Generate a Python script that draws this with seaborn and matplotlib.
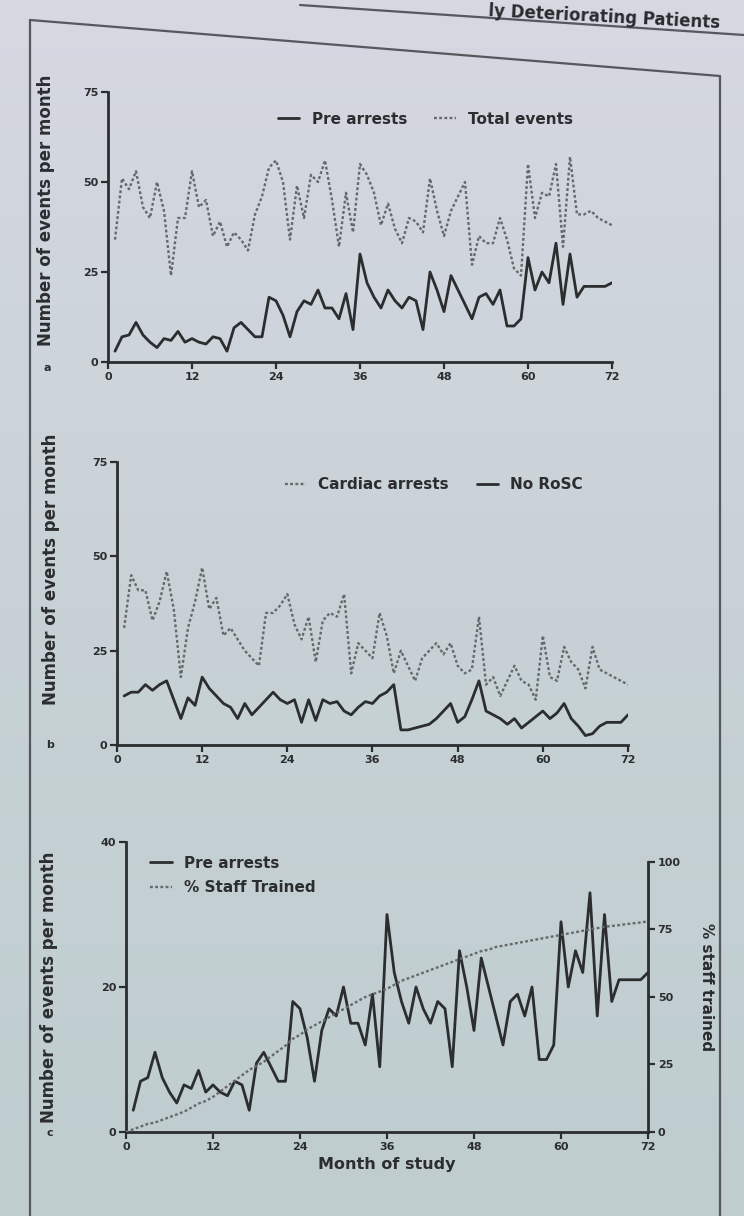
import numpy as np
import pandas as pd
import matplotlib
matplotlib.use("Agg")
import matplotlib.pyplot as plt
from matplotlib.lines import Line2D
from matplotlib.colors import LinearSegmentedColormap
import seaborn as sns

# ── data (months 1..72) ──────────────────────────────────────────────────────
months = list(range(1, 73))

pre_arrests = [3, 7, 7.5, 11, 7.5, 5.5, 4, 6.5, 6, 8.5, 5.5, 6.5,
               5.5, 5, 7, 6.5, 3, 9.5, 11, 9, 7, 7, 18, 17,
               13, 7, 14, 17, 16, 20, 15, 15, 12, 19, 9, 30,
               22, 18, 15, 20, 17, 15, 18, 17, 9, 25, 20, 14,
               24, 20, 16, 12, 18, 19, 16, 20, 10, 10, 12, 29,
               20, 25, 22, 33, 16, 30, 18, 21, 21, 21, 21, 22]

total_events = [34, 51, 48, 53, 43, 40, 50, 42, 24, 40, 40, 53,
                43, 45, 35, 39, 32, 36, 34, 31, 41, 46, 54, 56,
                50, 34, 49, 40, 52, 50, 56, 45, 32, 47, 36, 55,
                52, 47, 38, 44, 37, 33, 40, 39, 36, 51, 42, 35,
                42, 46, 50, 27, 35, 33, 33, 40, 34, 26, 24, 55,
                40, 47, 46, 55, 32, 57, 41, 41, 42, 40, 39, 38]

cardiac_arrests = [31, 45, 41, 41, 33, 38, 46, 36, 18, 31, 38, 47,
                   36, 39, 29, 31, 28, 25, 23, 21, 35, 35, 37, 40,
                   32, 28, 34, 22, 33, 35, 34, 40, 19, 27, 25, 23,
                   35, 29, 19, 25, 21, 17, 23, 25, 27, 24, 27, 21,
                   19, 20, 34, 16, 18, 13, 17, 21, 17, 16, 12, 29,
                   18, 17, 26, 22, 20, 15, 26, 20, 19, 18, 17, 16]

no_rosc = [13, 14, 14, 16, 14.5, 16, 17, 12, 7, 12.5, 10.5, 18,
           15, 13, 11, 10, 7, 11, 8, 10, 12, 14, 12, 11,
           12, 6, 12, 6.5, 12, 11, 11.5, 9, 8, 10, 11.5, 11,
           13, 14, 16, 4, 4, 4.5, 5, 5.5, 7, 9, 11, 6,
           7.5, 12, 17, 9, 8, 7, 5.5, 7, 4.5, 6, 7.5, 9,
           7, 8.5, 11, 7, 5, 2.5, 3, 5, 6, 6, 6, 8]

staff_months = list(range(0, 73))
staff_trained = [0, 1, 2, 3, 3.5, 4.5, 5.5, 6.5, 7.5, 9, 10.5, 11.5, 13,
                 15, 17, 19, 21, 23, 24.5, 26, 28, 30, 32, 34.5, 36,
                 38, 39.5, 41, 42.5, 44, 45.5, 47, 48.5, 50, 51, 52, 53,
                 54.5, 56, 57, 58, 59, 60, 61, 62, 63, 64, 65, 66,
                 67, 67.5, 68.5, 69, 69.5, 70, 70.5, 71, 71.5, 72, 72.5, 73,
                 73.5, 74, 74.5, 75, 75.5, 76, 76.3, 76.6, 77, 77.3, 77.6, 78]

x_ticks = [0, 12, 24, 36, 48, 60, 72]

df = pd.DataFrame({"month": months, "pre": pre_arrests, "total": total_events,
                   "cardiac": cardiac_arrests, "norosc": no_rosc})
df_staff = pd.DataFrame({"month": staff_months, "staff": staff_trained})

# ── style ────────────────────────────────────────────────────────────────────
sns.set_theme(style="ticks")
plt.rcParams["font.family"] = ["DejaVu Sans"]
plt.rcParams["font.weight"] = "bold"

INK = "#2b2d2f"
DOT = "#66696b"
DOTTED = (0, (1.2, 1.0))
W, H = 744, 1216

fig = plt.figure(figsize=(W / 100, H / 100), dpi=100)

# page background (photographed paper)
bg = fig.add_axes([0, 0, 1, 1], zorder=-10)
paper = LinearSegmentedColormap.from_list("paper", ["#bfcdcf", "#c8d2d6", "#d6d8e2"])
bg.imshow(np.linspace(0, 1, 256).reshape(-1, 1), cmap=paper, origin="lower",
          extent=[0, 1, 0, 1], aspect="auto")
bg.set_xlim(0, 1); bg.set_ylim(0, 1)
bg.axis("off")

# page frame lines
for (x0, y0, x1, y1) in [(300, 5, 744, 35), (30, 20, 720, 76),
                         (30, 20, 30, 1216), (720, 76, 720, 1216)]:
    fig.add_artist(Line2D([x0 / W, x1 / W], [1 - y0 / H, 1 - y1 / H],
                          color="#55585c", lw=1.6, zorder=-5))
fig.text(720 / W, 1 - 2 / H, "ly Deteriorating Patients", ha="right", va="top",
         fontsize=12, fontweight="bold", color="#2a2a2e", rotation=-3)


def axes_px(left, right, top, bottom):
    return fig.add_axes([left / W, 1 - bottom / H, (right - left) / W, (bottom - top) / H])


def style_axis(ax, ymax, yticks, label_xy):
    ax.set_facecolor("none")
    sns.despine(ax=ax)
    ax.set_xlim(0, 72)
    ax.set_ylim(0, ymax)
    ax.set_xticks(x_ticks)
    ax.set_yticks(yticks)
    for s in ("left", "bottom"):
        ax.spines[s].set_linewidth(2.0)
        ax.spines[s].set_color(INK)
    ax.tick_params(width=1.6, length=5, color=INK, labelsize=8, pad=2,
                   labelcolor=INK)
    ax.set_xlabel("")
    ax.set_ylabel("Number of events per month", fontsize=12, fontweight="bold",
                  color=INK)
    ax.yaxis.set_label_coords(*label_xy)


# ── panel a ──────────────────────────────────────────────────────────────────
ax_a = axes_px(108, 612, 92, 362)
sns.lineplot(data=df, x="month", y="pre", ax=ax_a, color=INK, lw=2.0,
             label="Pre arrests")
sns.lineplot(data=df, x="month", y="total", ax=ax_a, color=DOT, lw=1.7,
             linestyle=DOTTED, label="Total events")
style_axis(ax_a, 75, [0, 25, 50, 75], (-0.105, 0.56))
ax_a.legend(ncol=2, loc="center", bbox_to_anchor=(0.63, 0.9), frameon=False,
            fontsize=11, handlelength=1.4, columnspacing=1.8, labelcolor=INK)

# ── panel b ──────────────────────────────────────────────────────────────────
ax_b = axes_px(117, 628, 462, 745)
sns.lineplot(data=df, x="month", y="cardiac", ax=ax_b, color=DOT, lw=1.7,
             linestyle=DOTTED, label="Cardiac arrests")
sns.lineplot(data=df, x="month", y="norosc", ax=ax_b, color=INK, lw=2.0,
             label="No RoSC")
style_axis(ax_b, 75, [0, 25, 50, 75], (-0.112, 0.62))
ax_b.legend(ncol=2, loc="center", bbox_to_anchor=(0.62, 0.92), frameon=False,
            fontsize=11, handlelength=1.4, columnspacing=1.8, labelcolor=INK)

# ── panel c ──────────────────────────────────────────────────────────────────
ax_c = axes_px(126, 648, 842, 1132)
sns.lineplot(data=df, x="month", y="pre", ax=ax_c, color=INK, lw=2.0,
             label="Pre arrests")
style_axis(ax_c, 40, [0, 20, 40], (-0.13, 0.5))
ax_c.set_xlabel("Month of study", fontsize=11.5, fontweight="bold", color=INK,
                labelpad=4)

ax_r = ax_c.twinx()
sns.lineplot(data=df_staff, x="month", y="staff", ax=ax_r, color=DOT, lw=1.7,
             linestyle=DOTTED, label="% Staff Trained")
ax_r.set_facecolor("none")
ax_r.set_ylim(0, 107.4)
ax_r.set_yticks([0, 25, 50, 75, 100])
for s in ("top", "left", "bottom"):
    ax_r.spines[s].set_visible(False)
ax_r.spines["right"].set_bounds(0, 100)
ax_r.spines["right"].set_linewidth(2.0)
ax_r.spines["right"].set_color(INK)
ax_r.tick_params(width=1.6, length=5, color=INK, labelsize=8, pad=2,
                 labelcolor=INK)
ax_r.set_ylabel("% staff trained", fontsize=11, fontweight="bold", color=INK,
                rotation=-90, labelpad=24)
ax_r.get_legend().remove()

h1, l1 = ax_c.get_legend_handles_labels()
h2, l2 = ax_r.get_legend_handles_labels()
ax_c.legend(h1 + h2, l1 + l2, loc="upper left", bbox_to_anchor=(0.02, 1.0),
            frameon=False, fontsize=11, handlelength=1.4, labelspacing=0.6,
            labelcolor=INK)

# panel letters
for txt, (px, py) in {"a": (47, 368), "b": (50, 745), "c": (50, 1133)}.items():
    fig.text(px / W, 1 - py / H, txt, fontsize=8, fontweight="bold", color=INK,
             ha="center", va="center")

fig.savefig("out.png", dpi=100)
